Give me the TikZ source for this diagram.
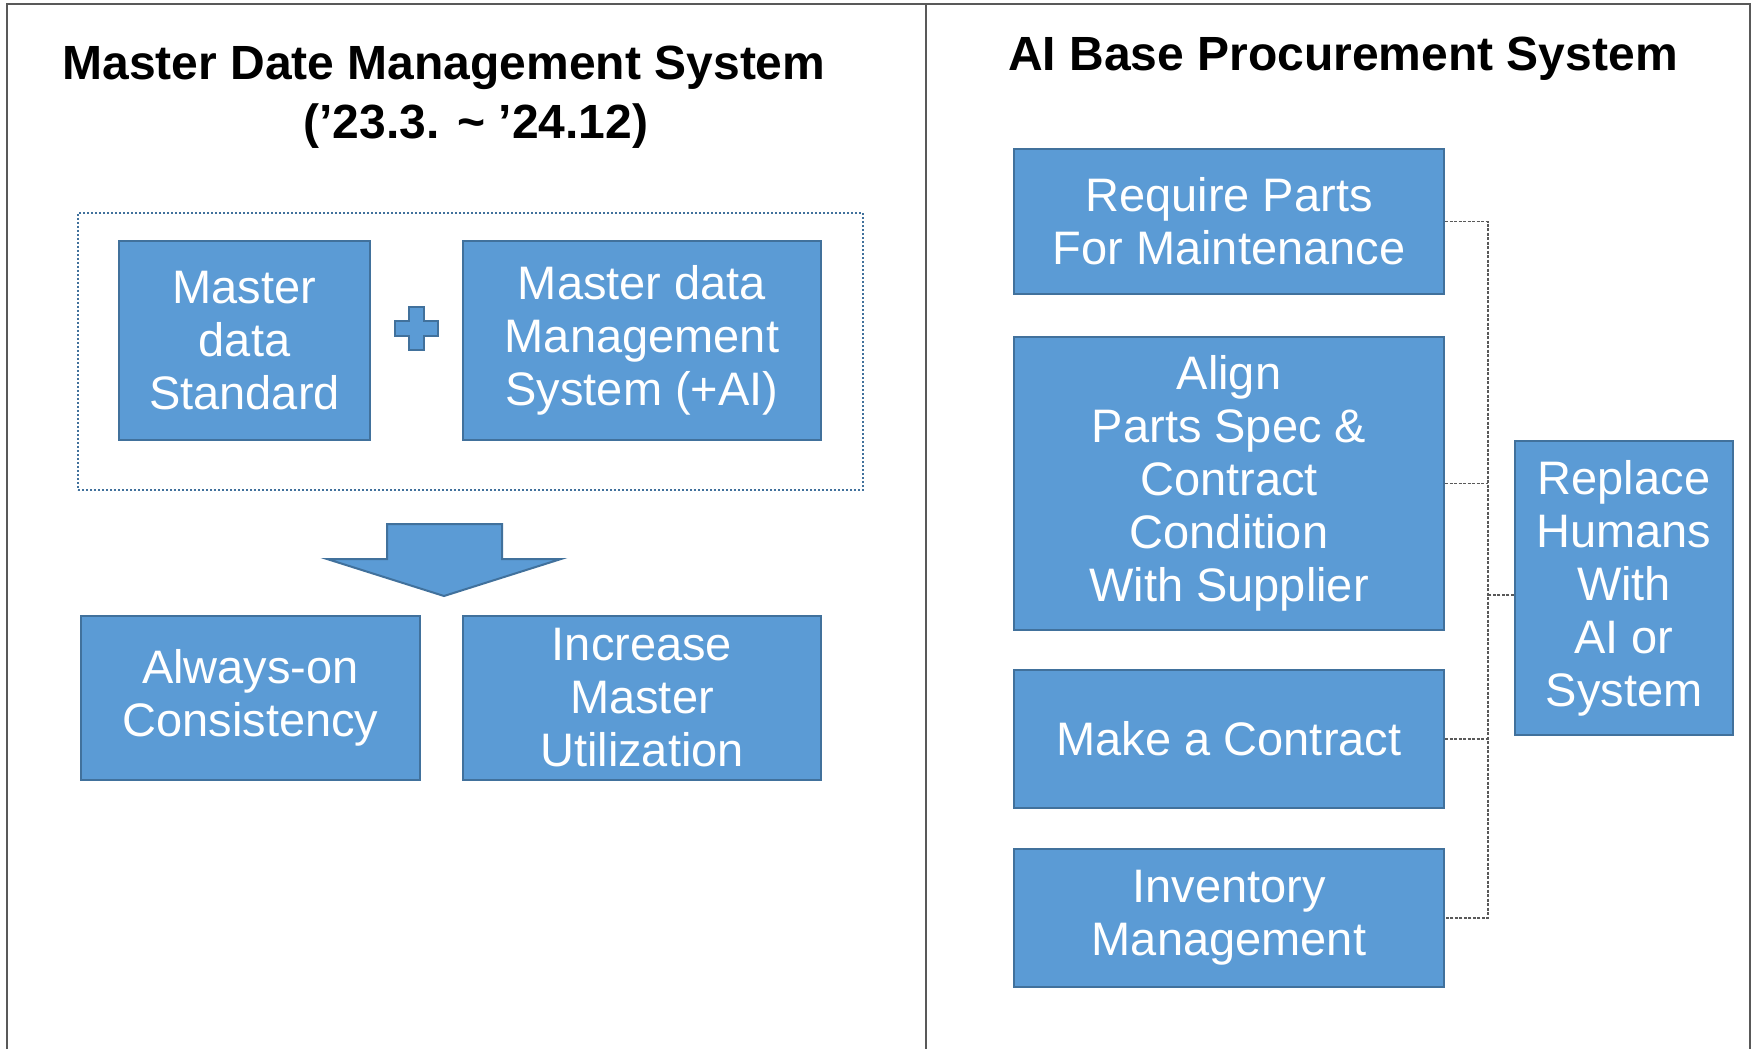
\documentclass[tikz,border=0pt]{standalone}
\usepackage{fontspec}
\setmainfont{Liberation Sans}
\definecolor{bfill}{HTML}{5B9BD5}
\definecolor{bline}{HTML}{41719C}
\definecolor{frameclr}{HTML}{595959}
\newcommand\bxfont{\fontsize{47}{53}\selectfont}
\newcommand\ttlfont{\bfseries\fontsize{48}{58}\selectfont}
\begin{document}
\begin{tikzpicture}[x=1pt,y=-1pt,
  blk/.style={draw=bline, fill=bfill, line width=2.2pt, text=white, font=\bxfont, align=center, inner sep=0pt},
  ttl/.style={font=\ttlfont, inner sep=0pt, text=black},
  conn/.style={draw=frameclr, line width=1.2pt, dash pattern=on 3pt off 1.5pt},
  shp/.style={draw=bline, fill=bfill, line width=2pt, line join=miter}
]
\useasboundingbox[fill=white] (0,0) rectangle (1758,1049);
% frame
\draw[frameclr, line width=1.5pt] (7,1049) -- (7,4) -- (1750,4) -- (1750,1049);
\draw[frameclr, line width=1.5pt] (926,4) -- (926,1049);
% titles
\node[ttl] (t1) at (444,68) {Master Date Management System};
\node[ttl] (t2) at (476,126) {(’23.3. \textasciitilde{} ’24.12)};
\node[ttl] (t3) at (1343,59) {AI Base Procurement System};
% dotted group
\node[draw=bline, line width=2pt, dash pattern=on 2pt off 2pt, minimum width=785pt, minimum height=277pt, inner sep=0pt] (grp) at (470.5,351.5) {};
% left boxes
\node[blk, minimum width=251pt, minimum height=199pt] (mds) at (244.5,340.5) {Master\\data\\Standard};
\node[blk, minimum width=358pt, minimum height=199pt] (mdm) at (642,340.5) {\raisebox{-4pt}{}Master data\\Management\\System (+AI)};
\node[blk, minimum width=339pt, minimum height=164pt] (aoc) at (250.5,698) {Always-on\\Consistency};
\node[blk, minimum width=358pt, minimum height=164pt] (imu) at (642,698) {Increase\\Master\\Utilization};
% plus
\draw[shp] (408.5,306.5) -- (423.5,306.5) -- (423.5,320.5) -- (437.5,320.5) -- (437.5,335.5) -- (423.5,335.5) -- (423.5,349.5) -- (408.5,349.5) -- (408.5,335.5) -- (394.5,335.5) -- (394.5,320.5) -- (408.5,320.5) -- cycle;
% arrow
\draw[shp] (387,524) -- (502,524) -- (502,559) -- (561,559) -- (444,596) -- (327,559) -- (387,559) -- cycle;
% right boxes
\node[blk, minimum width=430pt, minimum height=145pt] (rp) at (1229,221.5) {Require Parts\\For Maintenance};
\node[blk, minimum width=430pt, minimum height=293pt] (al) at (1229,483.5) {Align\\Parts Spec \&\\Contract\\Condition\\With Supplier};
\node[blk, minimum width=430pt, minimum height=138pt] (mc) at (1229,739) {Make a Contract};
\node[blk, minimum width=430pt, minimum height=138pt] (im) at (1229,918) {Inventory\\Management};
\node[blk, minimum width=218pt, minimum height=294pt] (rh) at (1624,588) {Replace\\Humans\\With\\AI or\\System};
% connectors
\coordinate (trunk) at (1488,0);
\draw[conn] (rp.east) -- (rp.east -| trunk) -- (im.east -| trunk) -- (im.east);
\draw[conn] (al.east) -- (al.east -| trunk);
\draw[conn] (mc.east) -- (mc.east -| trunk);
\draw[conn] ([yshift=-7pt]rh.west) -- ([yshift=-7pt]rh.west -| trunk);
\end{tikzpicture}
\end{document}
